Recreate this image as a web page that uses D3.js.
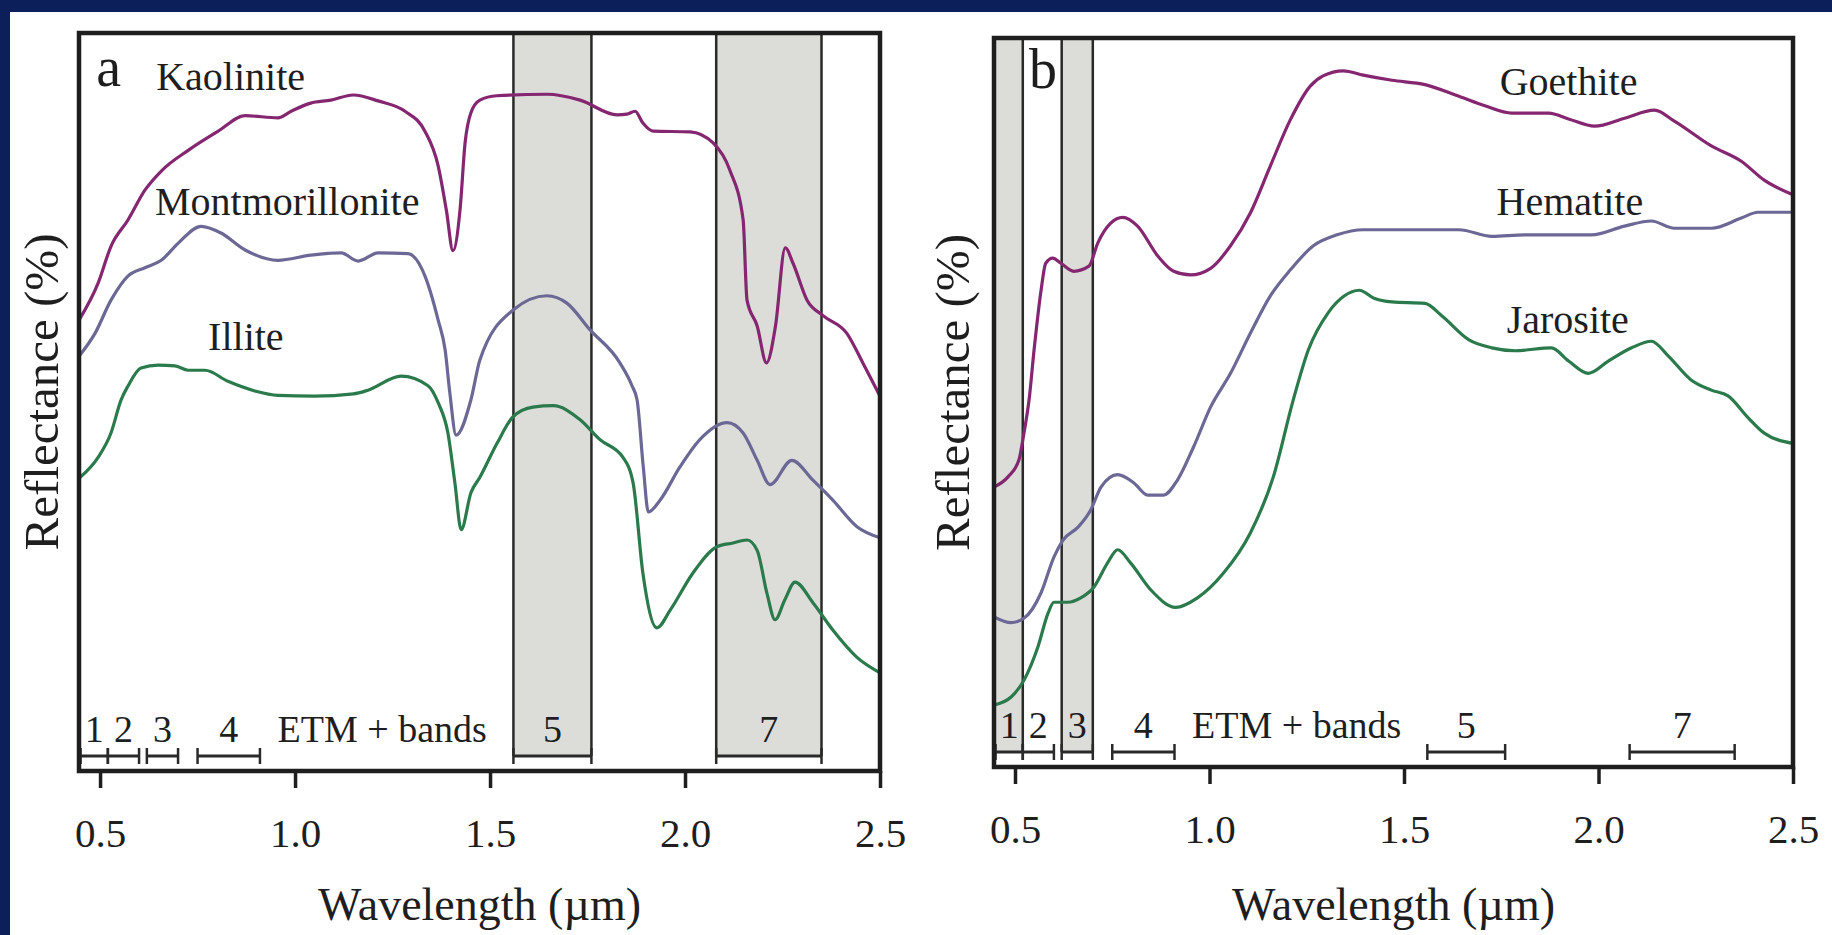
<!DOCTYPE html>
<html>
<head>
<meta charset="utf-8">
<script src="https://cdn.jsdelivr.net/npm/d3@7"></script>
<style>
  html, body { margin: 0; padding: 0; background: #0c1f5b; }
  svg { display: block; }
  text { font-family: "Liberation Serif", "Times New Roman", serif; fill: #1e1e1e; }
</style>
</head>
<body>
<div id="chart"></div>
<script>
// wavelength ticks (µm)
var wavelengthTicks = [0.5, 1.0, 1.5, 2.0, 2.5];

// ETM+ bands (µm)
var bandNames = ["1", "2", "3", "4", "5", "7"];
var bandStart = [0.45, 0.52, 0.62, 0.75, 1.56, 2.08];
var bandEnd   = [0.52, 0.60, 0.70, 0.91, 1.76, 2.35];
var shadedA = ["5", "7"];
var shadedB = ["1", "3"];

// panel a, [wavelength, relative reflectance]
var kaolinite = [[0.446,61.1],[0.495,66.1],[0.528,71.1],[0.572,74.7],[0.615,78.7],[0.657,81.3],[0.726,84.1],[0.803,86.7],[0.872,88.8],[0.956,88.5],[0.99,89.4],[1.04,90.5],[1.092,90.9],[1.149,91.6],[1.213,90.8],[1.282,89.4],[1.333,86.7],[1.367,82.0],[1.388,76.0],[1.405,70.5],[1.423,76.0],[1.436,85.1],[1.451,89.2],[1.474,90.9],[1.517,91.5],[1.646,91.7],[1.731,90.9],[1.826,88.9],[1.851,89.0],[1.872,89.4],[1.892,87.8],[1.918,86.7],[2.013,86.6],[2.072,85.1],[2.115,81.4],[2.149,74.7],[2.159,63.8],[2.185,60.3],[2.209,55.3],[2.232,60.3],[2.257,70.9],[2.277,68.8],[2.313,63.8],[2.354,61.7],[2.415,59.3],[2.456,55.3],[2.5,50.8]];
var montmorillonite = [[0.446,56.2],[0.487,59.3],[0.528,63.8],[0.572,67.1],[0.615,68.2],[0.657,69.2],[0.70,71.5],[0.759,73.8],[0.81,72.9],[0.872,70.6],[0.956,69.2],[1.041,69.9],[1.118,70.2],[1.162,69.1],[1.213,70.2],[1.29,70.1],[1.333,67.1],[1.367,61.1],[1.385,57.0],[1.397,51.2],[1.413,45.5],[1.451,50.3],[1.474,55.7],[1.56,62.5],[1.646,64.4],[1.697,63.4],[1.756,59.8],[1.833,55.3],[1.864,52.2],[1.877,50.3],[1.893,41.2],[1.906,35.1],[1.936,36.7],[1.987,41.2],[2.038,44.9],[2.108,47.2],[2.149,45.8],[2.185,42.1],[2.218,38.8],[2.274,42.1],[2.328,39.4],[2.379,36.7],[2.441,33.1],[2.5,31.6]];
var illite = [[0.449,39.8],[0.495,42.5],[0.528,45.8],[0.554,50.3],[0.572,52.2],[0.605,54.6],[0.649,55.0],[0.692,54.9],[0.726,54.3],[0.769,54.3],[0.828,52.8],[0.897,51.5],[0.956,50.9],[1.05,50.8],[1.15,51.1],[1.187,51.6],[1.272,53.5],[1.341,52.2],[1.367,49.9],[1.392,45.8],[1.41,39.0],[1.426,32.7],[1.451,37.7],[1.474,39.8],[1.518,44.4],[1.559,48.0],[1.61,49.3],[1.662,49.5],[1.731,47.6],[1.782,44.9],[1.841,42.5],[1.867,39.0],[1.892,26.8],[1.928,19.4],[1.962,21.8],[2.02,26.8],[2.082,30.4],[2.123,30.9],[2.159,31.3],[2.185,29.9],[2.21,24.1],[2.231,20.5],[2.256,23.2],[2.282,25.6],[2.328,22.8],[2.379,19.1],[2.441,15.4],[2.5,13.3]];

// panel b
var goethite = [[0.446,38.4],[0.482,39.8],[0.51,42.1],[0.523,45.8],[0.536,50.3],[0.549,57.2],[0.567,65.4],[0.579,69.1],[0.597,69.8],[0.618,69.1],[0.651,68.0],[0.69,68.7],[0.713,71.9],[0.746,74.6],[0.777,75.4],[0.815,74.2],[0.867,70.1],[0.908,68.0],[0.951,67.5],[1.003,68.4],[1.054,71.5],[1.105,76.0],[1.156,82.4],[1.208,88.8],[1.259,93.4],[1.292,94.8],[1.344,95.5],[1.395,94.9],[1.469,94.2],[1.554,93.6],[1.641,92.0],[1.708,90.7],[1.777,89.7],[1.872,89.7],[1.923,88.9],[1.99,87.9],[2.067,89.0],[2.144,90.1],[2.195,88.6],[2.29,85.2],[2.367,83.1],[2.426,80.5],[2.5,78.5]];
var hematite = [[0.446,20.6],[0.49,19.8],[0.523,20.4],[0.567,23.9],[0.6,28.8],[0.623,31.1],[0.662,32.9],[0.695,35.3],[0.721,38.4],[0.764,40.1],[0.805,39.0],[0.841,37.3],[0.882,37.3],[0.918,39.4],[0.959,43.9],[1.003,49.4],[1.054,54.0],[1.105,59.5],[1.156,64.6],[1.208,68.2],[1.267,71.5],[1.328,73.0],[1.395,73.7],[1.469,73.7],[1.641,73.7],[1.726,72.8],[1.81,73.0],[1.982,73.0],[2.067,74.2],[2.136,74.9],[2.195,73.9],[2.29,73.9],[2.367,75.3],[2.41,76.1],[2.5,76.1]];
var jarosite = [[0.446,8.5],[0.49,9.6],[0.523,11.9],[0.559,16.5],[0.585,21.1],[0.6,22.6],[0.636,22.6],[0.669,23.2],[0.703,24.7],[0.738,28.0],[0.764,29.8],[0.797,28.0],[0.849,24.3],[0.913,21.9],[0.969,23.2],[1.036,26.6],[1.105,32.1],[1.164,39.8],[1.215,50.3],[1.254,57.2],[1.305,62.3],[1.346,64.6],[1.385,65.4],[1.423,64.3],[1.469,63.8],[1.554,63.6],[1.597,61.9],[1.667,58.6],[1.726,57.5],[1.785,57.1],[1.879,57.5],[1.923,55.7],[1.974,54.0],[2.026,55.7],[2.085,57.5],[2.136,58.4],[2.179,56.4],[2.238,53.1],[2.29,51.7],[2.333,50.9],[2.385,47.9],[2.426,45.8],[2.5,44.4]];

var magenta = "#852670", slate = "#6c6896", green = "#2b7a4c";

var panels = [
  { letter: "a", left: 79, right: 880, top: 33, bottom: 771, yTitleX: 58, shaded: shadedA,
    series: [
      { name: "Kaolinite", data: kaolinite, color: magenta, lx: 0.644, ly: 92.3 },
      { name: "Montmorillonite", data: montmorillonite, color: slate, lx: 0.641, ly: 75.3 },
      { name: "Illite", data: illite, color: green, lx: 0.777, ly: 57.0 }
    ], letterPos: [0.49, 92.8] },
  { letter: "b", left: 994, right: 1793, top: 38, bottom: 767, yTitleX: 969, shaded: shadedB,
    series: [
      { name: "Goethite", data: goethite, color: magenta, lx: 1.746, ly: 92.2 },
      { name: "Hematite", data: hematite, color: slate, lx: 1.738, ly: 75.7 },
      { name: "Jarosite", data: jarosite, color: green, lx: 1.764, ly: 59.5 }
    ], letterPos: [0.536, 93.1] }
];

var width = 1832, height = 935;

var svg = d3.select("#chart").append("svg")
    .attr("width", width)
    .attr("height", height);

svg.append("rect")
    .attr("width", width).attr("height", height)
    .attr("fill", "#0c1f5b");

svg.append("rect")
    .attr("x", 10).attr("y", 12)
    .attr("width", width - 10).attr("height", height - 12)
    .attr("fill", "#ffffff");

panels.forEach(function(p) {
  var x = d3.scaleLinear().domain([0.446, 2.5]).range([p.left, p.right]);
  var y = d3.scaleLinear().domain([0, 100]).range([p.bottom, p.top]);
  var barY = p.bottom - 15;

  var g = svg.append("g");

  // shaded ETM bands
  var bands = bandNames.map(function(d, i) { return { name: d, start: bandStart[i], end: bandEnd[i] }; });
  var shaded = bands.filter(function(b) { return p.shaded.indexOf(b.name) >= 0; });

  g.selectAll(".shade").data(shaded).enter().append("rect")
      .attr("x", function(b) { return x(Math.max(b.start, 0.446)); })
      .attr("y", p.top)
      .attr("width", function(b) { return x(b.end) - x(Math.max(b.start, 0.446)); })
      .attr("height", barY - p.top)
      .attr("fill", "#dcdcd9");

  shaded.forEach(function(b) {
    [b.start, b.end].forEach(function(v) {
      if (v <= 0.45) return;
      g.append("line")
          .attr("x1", x(v)).attr("x2", x(v))
          .attr("y1", p.top).attr("y2", barY)
          .attr("stroke", "#2a2a2a").attr("stroke-width", 2.5);
    });
  });

  // band bars
  var bar = g.selectAll(".bar").data(bands).enter().append("g");
  bar.append("line")
      .attr("x1", function(b) { return x(Math.max(b.start, 0.446)); })
      .attr("x2", function(b) { return x(b.end); })
      .attr("y1", barY).attr("y2", barY)
      .attr("stroke", "#2a2a2a").attr("stroke-width", 3);
  bar.append("line")
      .attr("x1", function(b) { return x(b.start); })
      .attr("x2", function(b) { return x(b.start); })
      .attr("y1", barY - 8).attr("y2", barY + 8)
      .attr("stroke", "#2a2a2a").attr("stroke-width", 2.5);
  bar.append("line")
      .attr("x1", function(b) { return x(b.end); })
      .attr("x2", function(b) { return x(b.end); })
      .attr("y1", barY - 8).attr("y2", barY + 8)
      .attr("stroke", "#2a2a2a").attr("stroke-width", 2.5);
  bar.append("text")
      .attr("x", function(b) { return x((b.start + b.end) / 2); })
      .attr("y", barY - 14)
      .attr("text-anchor", "middle")
      .style("font-size", "38px")
      .text(function(b) { return b.name; });

  g.append("text")
      .attr("x", x(0.955))
      .attr("y", barY - 14)
      .style("font-size", "38px")
      .text("ETM + bands");

  // spectra
  var line = d3.line()
      .x(function(d) { return x(d[0]); })
      .y(function(d) { return y(d[1]); })
      .curve(d3.curveMonotoneX);

  g.selectAll(".spec").data(p.series).enter().append("path")
      .attr("d", function(s) { return line(s.data); })
      .attr("fill", "none")
      .attr("stroke", function(s) { return s.color; })
      .attr("stroke-width", 3.2)
      .attr("stroke-linejoin", "round");

  g.selectAll(".lbl").data(p.series).enter().append("text")
      .attr("x", function(s) { return x(s.lx); })
      .attr("y", function(s) { return y(s.ly); })
      .style("font-size", "40px")
      .text(function(s) { return s.name; });

  g.append("text")
      .attr("x", x(p.letterPos[0]))
      .attr("y", y(p.letterPos[1]))
      .style("font-size", "56px")
      .text(p.letter);

  // frame
  g.append("rect")
      .attr("x", p.left).attr("y", p.top)
      .attr("width", p.right - p.left).attr("height", p.bottom - p.top)
      .attr("fill", "none")
      .attr("stroke", "#1e1e1e")
      .attr("stroke-width", 4.5);

  // x axis
  var axis = g.append("g")
      .attr("transform", "translate(0," + p.bottom + ")")
      .call(d3.axisBottom(x).tickValues(wavelengthTicks).tickFormat(d3.format(".1f")).tickSize(17).tickPadding(30));
  axis.select(".domain").remove();
  axis.selectAll(".tick line").attr("stroke", "#1e1e1e").attr("stroke-width", 3.5);
  axis.selectAll(".tick text")
      .style("font-size", "41px")
      .style("font-family", "'Liberation Serif', 'Times New Roman', serif")
      .attr("fill", "#1e1e1e");

  g.append("text")
      .attr("x", (p.left + p.right) / 2)
      .attr("y", 920)
      .attr("text-anchor", "middle")
      .style("font-size", "46px")
      .text("Wavelength (µm)");

  g.append("text")
      .attr("transform", "translate(" + p.yTitleX + "," + ((p.top + p.bottom) / 2 - 10) + ") rotate(-90)")
      .attr("text-anchor", "middle")
      .style("font-size", "49px")
      .text("Reflectance (%)");
});
</script>
</body>
</html>
